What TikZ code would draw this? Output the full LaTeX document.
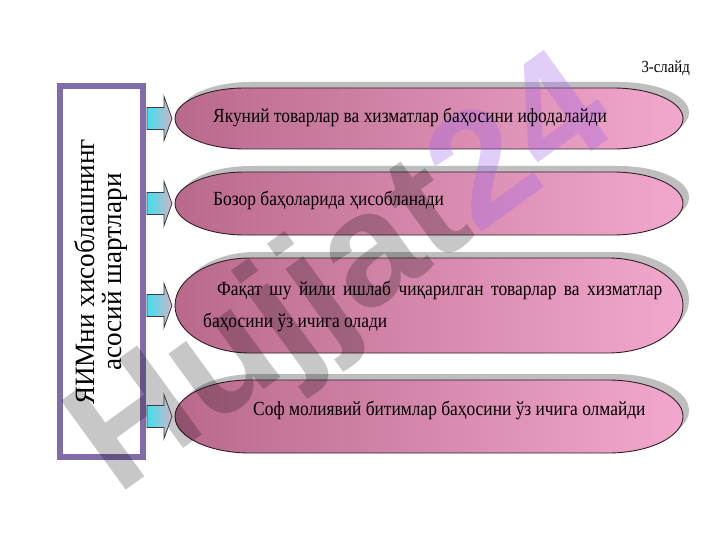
\documentclass[tikz,border=0pt]{standalone}
\usepackage{fontspec}
\setmainfont{Liberation Serif}
\newfontfamily\capfont[FakeStretch=0.87]{Liberation Serif}
\newfontfamily\titlefont[FakeStretch=0.97]{Liberation Serif}
\newfontfamily\wmfont{Liberation Sans}
\usetikzlibrary{calc}

\definecolor{boxpurple}{RGB}{128,108,170}
\definecolor{capleft}{RGB}{185,105,140}
\definecolor{capright}{RGB}{242,168,204}
\definecolor{capline}{RGB}{50,30,40}
\definecolor{shadowgray}{RGB}{190,190,190}
\definecolor{arrcyan}{RGB}{60,225,240}
\definecolor{arrpink}{RGB}{210,180,198}
\definecolor{arrline}{RGB}{60,60,70}
\definecolor{wmpurple}{RGB}{160,100,235}

% #1 options, #2 L, #3 T, #4 R, #5 B, #6 rx
\newcommand\cappath[6]{%
  \path[#1] ({#2+#6},#3) -- ({#4-#6},#3)
    .. controls ({#4-0.4477*#6},#3) and (#4,{#3+(#5-#3)*0.22385}) .. (#4,{(#3+#5)/2})
    .. controls (#4,{#5-(#5-#3)*0.22385}) and ({#4-0.4477*#6},#5) .. ({#4-#6},#5)
    -- ({#2+#6},#5)
    .. controls ({#2+0.4477*#6},#5) and (#2,{#5-(#5-#3)*0.22385}) .. (#2,{(#3+#5)/2})
    .. controls (#2,{#3+(#5-#3)*0.22385}) and ({#2+0.4477*#6},#3) .. cycle;}
% #1 name, #2 L, #3 T, #4 R, #5 B, #6 rx
\newcommand\capsule[6]{%
  \cappath{fill=shadowgray, shift={(6,-6)}}{#2}{#3}{#4}{#5}{#6}
  \cappath{left color=capleft, right color=capright, draw=capline, line width=0.9pt}{#2}{#3}{#4}{#5}{#6}
  \coordinate (#1) at (#2,{(#3+#5)/2});}

\tikzset{
  blockarrow/.style={draw=arrline, line width=0.8pt, line join=miter,
    left color=arrcyan, right color=arrpink},
  captext/.style={anchor=west, inner sep=0pt, font=\capfont\fontsize{20}{32}\selectfont, text=black},
  mainbox/.style={draw=boxpurple, line width=5pt, minimum width=84pt,
    minimum height=372pt, inner sep=0pt, fill=white},
}

\begin{document}
\begin{tikzpicture}[x=1pt,y=-1pt]
\useasboundingbox (0,0) rectangle (720,540);
\fill[white] (0,0) rectangle (720,540);

% left box
\node[mainbox] (box) at (101.5,271.5) {};
\draw[boxpurple, line width=1.2pt] ($(box.north west)+(5,5)$) rectangle ($(box.south east)+(-5,-5)$);

% capsules
\capsule{c1}{175}{88}{683}{149}{70}
\capsule{c2}{175}{172}{683}{235}{70}
\capsule{c3}{175}{258}{683}{353}{75}
\capsule{c4}{175}{380}{683}{453}{75}

% watermark (between the shapes and the texts)
\begin{scope}
\clip (0,0) rectangle (720,540);
\node[rotate=36, inner sep=0pt, font=\wmfont\bfseries\fontsize{160}{160}\selectfont]
  (wm) at (345,280)
  {\textcolor{black}{\pgfsetfillopacity{0.22}Hujjat}\textcolor{wmpurple}{\pgfsetfillopacity{0.32}24}};
\end{scope}

% arrows from the box to each capsule
\foreach \i in {1,2,3,4}{
  \coordinate (s\i) at (box.east |- c\i);
  \draw[blockarrow] ($(s\i)+(1,-11)$) -- ($(c\i)+(-11,-11)$) -- ($(c\i)+(-11,-22)$)
     -- ($(c\i)+(-3,0)$) -- ($(c\i)+(-11,22)$) -- ($(c\i)+(-11,11)$)
     -- ($(s\i)+(1,11)$) -- cycle;
}

% texts
\node[rotate=90, align=center, inner sep=0pt,
  font=\titlefont\fontsize{28}{27}\selectfont] (title) at (100.5,272)
  {ЯИМни хисоблашнинг\\асосий шартлари};
\node[captext] (t1) at (213,118) {Якуний товарлар ва хизматлар баҳосини ифодалайди};
\node[captext] (t2) at (213,200) {Бозор баҳоларида ҳисобланади};
\node[captext, align=left] (t3) at (203,306)
  {\hspace*{14pt}\makebox[445pt][s]{Фақат шу йили ишлаб чиқарилган товарлар ва хизматлар}\\баҳосини ўз ичига олади};
\node[captext] (t4) at (253,410) {Соф молиявий битимлар баҳосини ўз ичига олмайди};

\node[anchor=east, inner sep=0pt, font=\capfont\fontsize{17}{18}\selectfont] (slide) at (690,68) {3-слайд};
\end{tikzpicture}
\end{document}
